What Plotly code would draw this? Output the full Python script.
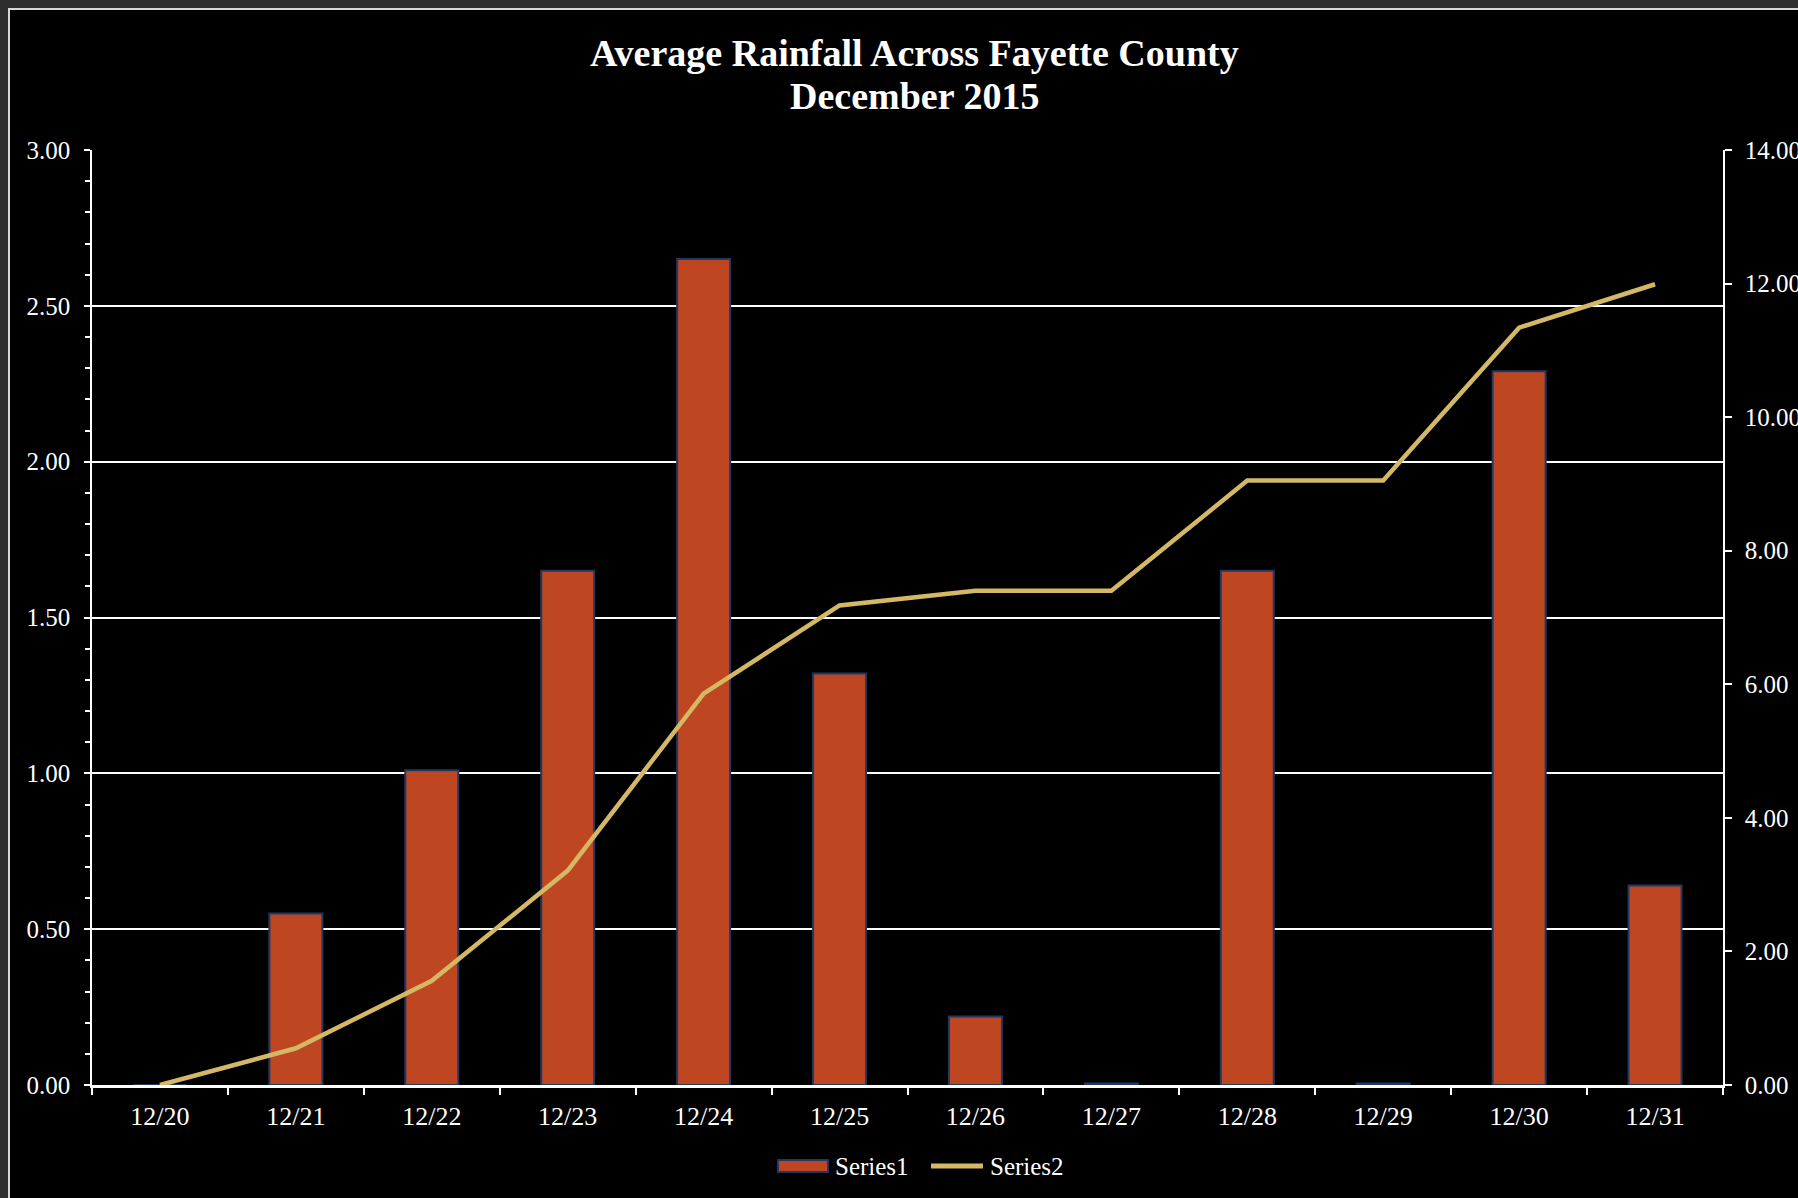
import plotly.graph_objects as go

dates = ["12/20", "12/21", "12/22", "12/23", "12/24", "12/25",
         "12/26", "12/27", "12/28", "12/29", "12/30", "12/31"]
daily_rain = [0.0, 0.55, 1.01, 1.65, 2.65, 1.32, 0.22, 0.005, 1.65, 0.005, 2.29, 0.64]
cumulative_rain = [0.0, 0.55, 1.56, 3.21, 5.86, 7.18, 7.40, 7.40, 9.05, 9.05, 11.34, 11.99]
series_names = ["Series1", "Series2"]
title_lines = ["Average Rainfall Across Fayette County", "December 2015"]

BAR_COLOR, BAR_EDGE, LINE_COLOR = "#BE4620", "#1F3864", "#D4B866"

W, H = 1798, 1198
ML, MR, MT, MB = 92, 75, 150, 113
PW, PH = W - ML - MR, H - MT - MB

def px_x(p):
    return (p - ML) / PW

def px_y(p):
    return (H - MB - p) / PH

FONT = "Liberation Serif"

fig = go.Figure()
fig.add_trace(go.Bar(
    x=dates, y=daily_rain, name=series_names[0], width=0.39,
    marker=dict(color=BAR_COLOR, line=dict(color=BAR_EDGE, width=2)),
    yaxis="y", showlegend=False,
))
fig.add_trace(go.Scatter(
    x=dates, y=cumulative_rain, name=series_names[1], mode="lines",
    line=dict(color=LINE_COLOR, width=4.5),
    yaxis="y2", showlegend=False,
))

# chart frame
fig.add_shape(type="rect", xref="paper", yref="paper",
              x0=px_x(9), x1=px_x(1830), y0=px_y(1230), y1=px_y(9),
              fillcolor="black", line=dict(color="#d8d8d8", width=2),
              layer="below")

# title
for txt, ypx in zip(title_lines, [53, 96]):
    fig.add_annotation(text="<b>" + txt + "</b>", xref="paper", yref="paper",
                       x=px_x(914), y=px_y(ypx), xanchor="center", yanchor="middle",
                       showarrow=False,
                       font=dict(family=FONT, size=38, color="white"))

# legend (drawn)
LEG_Y = 1166
fig.add_shape(type="rect", xref="paper", yref="paper",
              x0=px_x(778), x1=px_x(828), y0=px_y(LEG_Y + 6), y1=px_y(LEG_Y - 6),
              fillcolor=BAR_COLOR, line=dict(color=BAR_EDGE, width=2))
fig.add_shape(type="line", xref="paper", yref="paper",
              x0=px_x(931), x1=px_x(983), y0=px_y(LEG_Y), y1=px_y(LEG_Y),
              line=dict(color=LINE_COLOR, width=5))
for txt, xpx in zip(series_names, [833, 988]):
    fig.add_annotation(text=txt, xref="paper", yref="paper",
                       x=px_x(xpx), y=px_y(LEG_Y), xanchor="left", yanchor="middle",
                       showarrow=False,
                       font=dict(family=FONT, size=25, color="white"))

fig.update_layout(
    width=W, height=H,
    margin=dict(l=ML, r=MR, t=MT, b=MB, autoexpand=False),
    paper_bgcolor="#2e2e2e",
    plot_bgcolor="black",
    font=dict(family=FONT, color="white", size=22),
    showlegend=False,
    bargap=0.61,
    xaxis=dict(
        type="category", range=[-0.5, 11.5], automargin=False,
        tickson="boundaries", ticks="outside", ticklen=7, tickwidth=2,
        tickcolor="white", showline=True, linecolor="white", linewidth=2.5,
        showgrid=False, tickfont=dict(family=FONT, size=26, color="white"),
        ticklabelstandoff=6,
    ),
    yaxis=dict(
        range=[0, 3], dtick=0.5, tick0=0, tickformat=".2f", automargin=False,
        showgrid=True, gridcolor="white", gridwidth=1.5,
        showline=True, linecolor="white", linewidth=1.5,
        ticks="outside", ticklen=6, tickwidth=1.5, tickcolor="white",
        minor=dict(dtick=0.1, ticks="outside", ticklen=5, tickwidth=1.5,
                   tickcolor="white", showgrid=False),
        zeroline=False, ticklabelstandoff=9,
        tickfont=dict(family=FONT, size=25, color="white"),
    ),
    yaxis2=dict(
        range=[0, 14], dtick=2, tick0=0, tickformat=".2f", automargin=False,
        overlaying="y", side="right", showgrid=False,
        showline=True, linecolor="white", linewidth=1.5,
        ticks="outside", ticklen=7, tickwidth=1.5, tickcolor="white",
        zeroline=False,
        tickfont=dict(family=FONT, size=25, color="white"),
        ticklabelstandoff=8,
    ),
)

fig.write_html("out.html")
